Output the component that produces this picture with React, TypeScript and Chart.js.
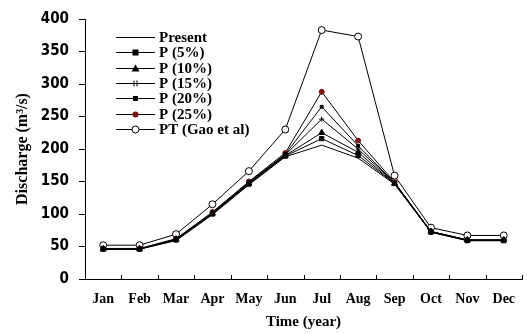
import React, { useEffect, useRef } from "react";
import { Chart, registerables } from "chart.js";

Chart.register(...registerables);

const months = ["Jan", "Feb", "Mar", "Apr", "May", "Jun", "Jul", "Aug", "Sep", "Oct", "Nov", "Dec"];
const present = [46, 46, 59, 99, 145, 188, 206, 186, 146, 72, 59, 59];
const p5 = [46, 46, 60, 100, 146, 189, 216, 190, 147, 72, 59, 59];
const p10 = [46, 46, 61, 101, 147, 190, 225, 195, 147, 73, 60, 60];
const p15 = [46, 46, 61, 101, 148, 191, 246, 200, 148, 73, 60, 60];
const p20 = [46, 46, 61, 102, 149, 192, 265, 205, 148, 73, 60, 60];
const p25 = [47, 47, 62, 103, 150, 194, 288, 213, 149, 73, 60, 60];
const pt = [52, 52, 69, 115, 166, 230, 383, 373, 159, 79, 67, 67];
const yTicks = [0, 50, 100, 150, 200, 250, 300, 350, 400];

const SERIF = "'Liberation Serif', 'Times New Roman', serif";
const DARKRED = "#7a1414";

type Marker = "none" | "square" | "triangle" | "cross" | "dot" | "reddot" | "open";

const seriesDefs: { label: string; data: number[]; marker: Marker }[] = [
  { label: "Present", data: present, marker: "none" },
  { label: "P (5%)", data: p5, marker: "square" },
  { label: "P (10%)", data: p10, marker: "triangle" },
  { label: "P (15%)", data: p15, marker: "cross" },
  { label: "P (20%)", data: p20, marker: "dot" },
  { label: "P (25%)", data: p25, marker: "reddot" },
  { label: "PT (Gao et al)", data: pt, marker: "open" },
];

function markerProps(m: Marker) {
  switch (m) {
    case "none":
      return { pointStyle: "circle", pointRadius: 0, pointBackgroundColor: "#000", pointBorderColor: "#000", pointBorderWidth: 0 };
    case "square":
      return { pointStyle: "rect", pointRadius: 3, pointBackgroundColor: "#000", pointBorderColor: "#000", pointBorderWidth: 1 };
    case "triangle":
      return { pointStyle: "triangle", pointRadius: 3.5, pointBackgroundColor: "#000", pointBorderColor: "#000", pointBorderWidth: 1 };
    case "cross":
      return { pointStyle: "cross", pointRadius: 2.5, pointBackgroundColor: "#000", pointBorderColor: "#000", pointBorderWidth: 1 };
    case "dot":
      return { pointStyle: "rect", pointRadius: 2, pointBackgroundColor: "#000", pointBorderColor: "#000", pointBorderWidth: 1 };
    case "reddot":
      return { pointStyle: "circle", pointRadius: 2.5, pointBackgroundColor: DARKRED, pointBorderColor: DARKRED, pointBorderWidth: 1 };
    case "open":
      return { pointStyle: "circle", pointRadius: 3.5, pointBackgroundColor: "#fff", pointBorderColor: "#000", pointBorderWidth: 1 };
  }
}

function drawMarker(ctx: CanvasRenderingContext2D, m: Marker, x: number, y: number) {
  ctx.save();
  ctx.strokeStyle = "#000";
  ctx.fillStyle = "#000";
  ctx.lineWidth = 1;
  if (m === "square") {
    ctx.fillRect(x - 3, y - 3, 6, 6);
  } else if (m === "triangle") {
    ctx.beginPath();
    ctx.moveTo(x, y - 4);
    ctx.lineTo(x + 4, y + 3);
    ctx.lineTo(x - 4, y + 3);
    ctx.closePath();
    ctx.fill();
  } else if (m === "cross") {
    ctx.beginPath();
    ctx.moveTo(x - 1.5, y - 3);
    ctx.lineTo(x - 1.5, y + 3);
    ctx.moveTo(x + 1.5, y - 3);
    ctx.lineTo(x + 1.5, y + 3);
    ctx.stroke();
  } else if (m === "dot") {
    ctx.fillRect(x - 2.5, y - 2.5, 5, 5);
  } else if (m === "reddot") {
    ctx.fillStyle = DARKRED;
    ctx.beginPath();
    ctx.arc(x, y, 3, 0, Math.PI * 2);
    ctx.fill();
  } else if (m === "open") {
    ctx.fillStyle = "#fff";
    ctx.beginPath();
    ctx.arc(x, y, 3.5, 0, Math.PI * 2);
    ctx.fill();
    ctx.stroke();
  }
  ctx.restore();
}

const customPlugin = {
  id: "customDecor",
  afterDraw(chart: any) {
    const ctx: CanvasRenderingContext2D = chart.ctx;
    const xs = chart.scales.x;
    const area = chart.chartArea;
    // inward x tick marks at category boundaries
    ctx.save();
    ctx.strokeStyle = "#000";
    ctx.lineWidth = 1;
    ctx.beginPath();
    for (let i = 0; i < months.length; i++) {
      const bx = i < months.length - 1 ? (xs.getPixelForValue(i) + xs.getPixelForValue(i + 1)) / 2 : area.right - 0.5;
      const px = Math.round(bx) + 0.5;
      ctx.moveTo(px, area.bottom);
      ctx.lineTo(px, area.bottom - 4);
    }
    ctx.stroke();
    ctx.restore();

    // legend inside plot
    const lx0 = area.left + 31;
    const lx1 = area.left + 70;
    const tx = area.left + 74;
    const y0 = area.top + 18;
    const dy = 15.3;
    ctx.save();
    ctx.font = `bold 15px ${SERIF}`;
    ctx.textBaseline = "middle";
    ctx.fillStyle = "#000";
    seriesDefs.forEach((s, i) => {
      const y = Math.round(y0 + i * dy) + 0.5;
      ctx.strokeStyle = "#000";
      ctx.lineWidth = 1;
      ctx.beginPath();
      ctx.moveTo(lx0, y);
      ctx.lineTo(lx1, y);
      ctx.stroke();
      drawMarker(ctx, s.marker, (lx0 + lx1) / 2, y);
      ctx.fillStyle = "#000";
      ctx.fillText(s.label, tx, y + 1);
    });
    ctx.restore();
  },
};

export default function App() {
  const canvasRef = useRef<HTMLCanvasElement | null>(null);

  useEffect(() => {
    document.body.style.margin = "0";
    const canvas = canvasRef.current;
    if (!canvas) return;
    const chart = new Chart(canvas, {
      type: "line",
      data: {
        labels: months,
        datasets: seriesDefs.map((s) => ({
          label: s.label,
          data: s.data,
          borderColor: "#000",
          borderWidth: 1,
          fill: false,
          tension: 0,
          ...(markerProps(s.marker) as any),
        })),
      },
      options: {
        animation: false,
        responsive: false,
        maintainAspectRatio: false,
        devicePixelRatio: 1,
        layout: { padding: { top: 17, right: 2, left: 0, bottom: 0 } },
        plugins: {
          legend: { display: false },
          tooltip: { enabled: false },
        },
        scales: {
          x: {
            type: "category",
            offset: true,
            grid: { display: false, offset: true },
            border: { display: true, color: "#000", width: 1 },
            ticks: {
              color: "#000",
              padding: 4,
              maxRotation: 0,
              autoSkip: false,
              font: { family: SERIF, size: 14, weight: "bold" },
            },
            title: {
              display: true,
              text: "Time (year)",
              color: "#000",
              padding: { top: 4, bottom: 3 },
              font: { family: SERIF, size: 15, weight: "bold" },
            },
            afterFit(scale: any) {
              scale.height = 55;
            },
          },
          y: {
            type: "linear",
            min: 0,
            max: 400,
            afterBuildTicks(scale: any) {
              scale.ticks = yTicks.map((v) => ({ value: v }));
            },
            grid: {
              display: true,
              drawOnChartArea: false,
              drawTicks: true,
              tickLength: 6,
              color: "#000",
              lineWidth: 1,
            },
            border: { display: true, color: "#000", width: 1 },
            ticks: {
              color: "#000",
              padding: 10,
              font: { family: "'DejaVu Sans Condensed', 'DejaVu Sans', sans-serif", size: 15, weight: "bold" },
            },
            title: {
              display: true,
              text: "Discharge (m³/s)",
              color: "#000",
              padding: { top: 13, bottom: 0 },
              font: { family: SERIF, size: 16, weight: "bold" },
            },
            afterFit(scale: any) {
              scale.width = 85;
            },
          },
        },
      },
      plugins: [customPlugin],
    } as any);
    return () => chart.destroy();
  }, []);

  return (
    <div style={{ position: "absolute", left: 0, top: 0, width: 527, height: 334, background: "#fff" }}>
      <canvas ref={canvasRef} width={527} height={334} style={{ width: 527, height: 334, display: "block" }} />
    </div>
  );
}
